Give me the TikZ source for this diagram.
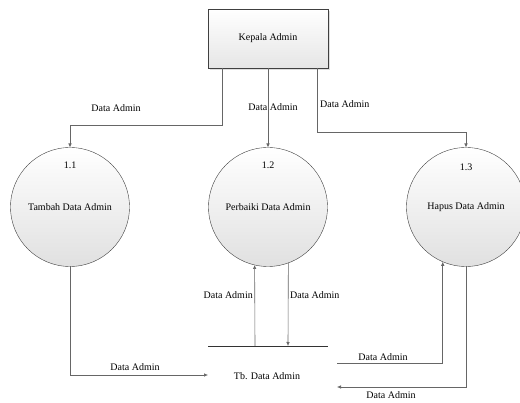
\documentclass[tikz,border=0pt]{standalone}
\usepackage{fontspec}
\setmainfont{Liberation Serif}
\usetikzlibrary{arrows.meta,shadows}

\tikzset{
  entite/.style={draw=black!75, top color=white, bottom color=black!10,
    minimum width=120pt, minimum height=59pt, inner sep=0pt, outer sep=0pt,
    drop shadow={opacity=0.25, shadow xshift=2pt, shadow yshift=-2pt}},
  proses/.style={circle, draw=black!75, top color=white, bottom color=black!12,
    minimum size=119pt, inner sep=0pt, outer sep=0pt},
  flux/.style={draw=black!60, line width=0.6pt, -{Latex[length=4pt,width=3.5pt]}},
  etiq/.style={inner sep=1pt, font=\fontsize{10}{12}\selectfont},
}

\begin{document}
\begin{tikzpicture}[x=1pt,y=-1pt,font=\fontsize{10}{12}\selectfont]
\useasboundingbox (0,0) rectangle (520,403);

% entite externe
\node[entite] (kepala) at (268,38.5) {Kepala Admin};

% processus
\node[proses] (p11) at (70,207) {Tambah Data Admin};
\node[proses] (p12) at (268,207) {Perbaiki Data Admin};
\node[proses] (p13) at (466,207) {Hapus Data Admin};
\node[etiq] (n11) at (70,165) {1.1};
\node[etiq] (n12) at (268,165) {1.2};
\node[etiq] (n13) at (466,167) {1.3};

% stockage
\coordinate (ds1) at (208,346);
\coordinate (ds2) at (328,346);
\draw[black!80, line width=0.6pt] (ds1) -- (ds2);
\node[etiq] (tb) at (267,376) {Tb. Data Admin};

% points libres des flux
\coordinate (c11) at (70,125);
\coordinate (c13) at (466,132);
\coordinate (e11) at (208,375);
\coordinate (a12) at (255,346);
\coordinate (b12) at (288,346);
\coordinate (s13) at (337,363);
\coordinate (e13) at (337,387);

% flux
\draw[flux] ([xshift=-46pt]kepala.south) |- (c11) -- (p11.north);
\draw[flux] (kepala.south) -- (p12.north);
\draw[flux] ([xshift=49pt]kepala.south) |- (c13) -- (p13.north);
\draw[flux] (p11.south) |- (e11);
\draw[flux] (a12) -- (p12.257.5);
\draw[flux] (p12.-70.5) -- (b12);
\draw[flux] (s13) -| (p13.-113);
\draw[flux] (p13.south) |- (e13);

% etiquettes
\node[etiq] (l1) at (116,108) {Data Admin};
\node[etiq] (l2) at (273,107) {Data Admin};
\node[etiq, anchor=west] (l3) at (319,104) {Data Admin};
\node[etiq] (l4) at (135,367) {Data Admin};
\node[etiq, anchor=east] (l5) at (254,295) {Data Admin};
\node[etiq, anchor=west] (l6) at (289,295) {Data Admin};
\node[etiq] (l7) at (383,357) {Data Admin};
\node[etiq] (l8) at (391,395) {Data Admin};
\end{tikzpicture}
\end{document}
